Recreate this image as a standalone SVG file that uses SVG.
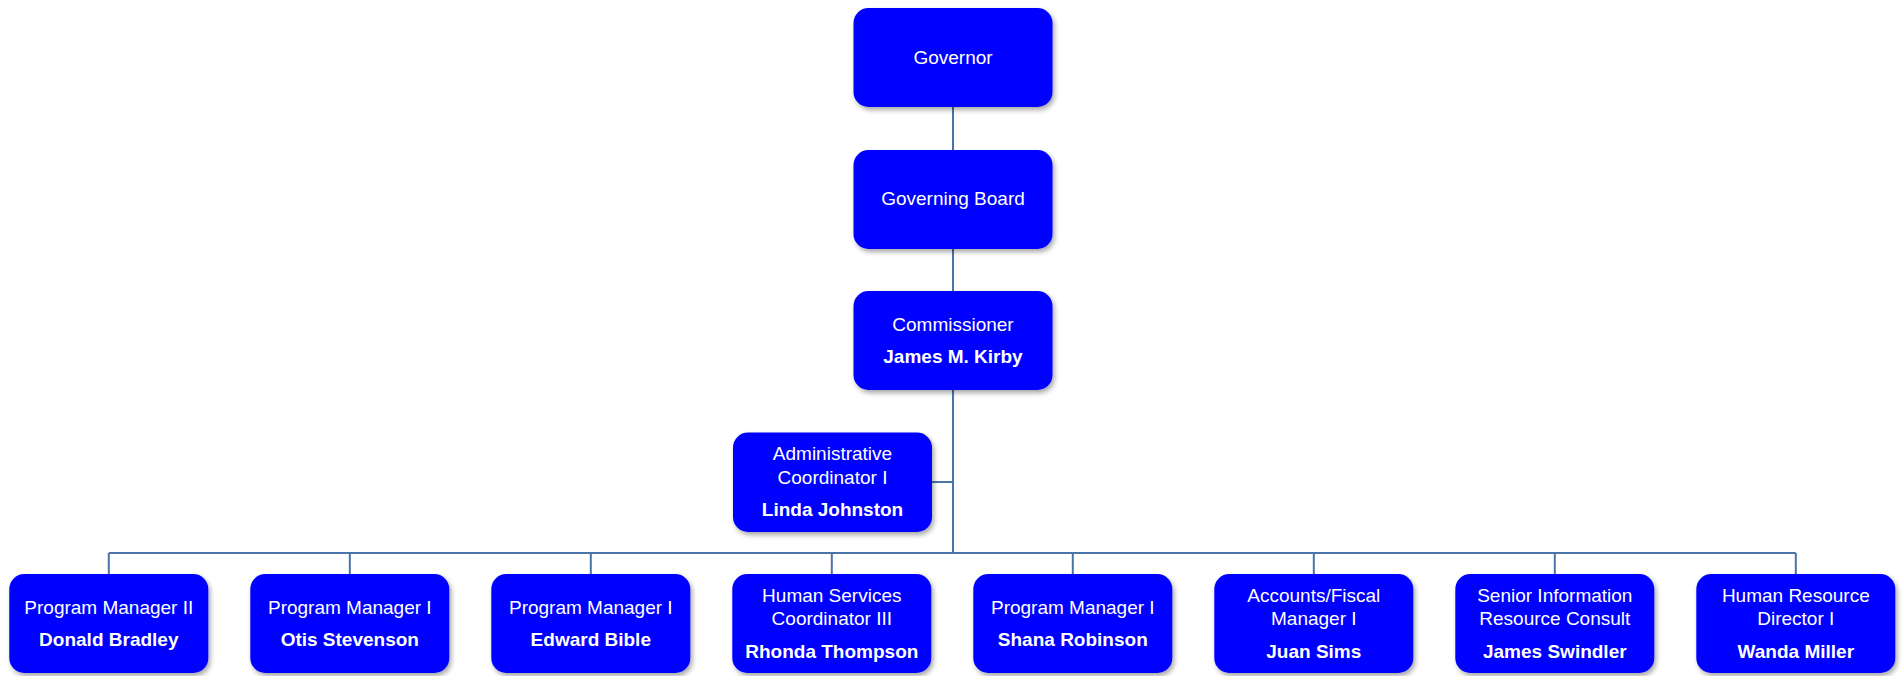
<svg xmlns="http://www.w3.org/2000/svg" width="1902" height="676" viewBox="0 0 1902 676">
<defs>
<filter id="sh" x="-10%" y="-10%" width="125%" height="130%">
<feDropShadow dx="2" dy="3" stdDeviation="2.5" flood-color="#000" flood-opacity="0.35"/>
</filter>
<style>
.box{fill:#0000ff;filter:url(#sh)}
.t{font-family:"Liberation Sans",Arial,sans-serif;font-size:19px;fill:#fff;text-anchor:middle}
.b{font-weight:bold}
.c{fill:none;stroke:#4a74a8;stroke-width:2}
</style>
</defs>
<rect width="1902" height="676" fill="#fff"/>
<g id="connectors">
<path class="c" d="M953 107V150M953 249V291M953 390V553M932 482H953M108.8 553H1795.8"/>
<path class="c" d="M108.8 553V574M349.8 553V574M590.8 553V574M831.8 553V574M1072.8 553V574M1313.8 553V574M1554.8 553V574M1795.8 553V574"/>
</g>
<g id="governor"><rect class="box" x="853.5" y="8" width="199" height="99" rx="15"/><text class="t" x="953" y="64">Governor</text></g>
<g id="board"><rect class="box" x="853.5" y="150" width="199" height="99" rx="15"/><text class="t" x="953" y="205">Governing Board</text></g>
<g id="commissioner"><rect class="box" x="853.5" y="291" width="199" height="99" rx="15"/><text class="t" x="953" y="331">Commissioner</text><text class="t b" x="953" y="363">James M. Kirby</text></g>
<g id="admin"><rect class="box" x="733" y="432.5" width="199" height="99.5" rx="15"/><text class="t" x="832.5" y="460">Administrative</text><text class="t" x="832.5" y="484">Coordinator I</text><text class="t b" x="832.5" y="516">Linda Johnston</text></g>
<g id="n1"><rect class="box" x="9.3" y="574" width="199" height="99" rx="15"/><text class="t" x="108.8" y="614">Program Manager II</text><text class="t b" x="108.8" y="646">Donald Bradley</text></g>
<g id="n2"><rect class="box" x="250.3" y="574" width="199" height="99" rx="15"/><text class="t" x="349.8" y="614">Program Manager I</text><text class="t b" x="349.8" y="646">Otis Stevenson</text></g>
<g id="n3"><rect class="box" x="491.3" y="574" width="199" height="99" rx="15"/><text class="t" x="590.8" y="614">Program Manager I</text><text class="t b" x="590.8" y="646">Edward Bible</text></g>
<g id="n4"><rect class="box" x="732.3" y="574" width="199" height="99" rx="15"/><text class="t" x="831.8" y="602">Human Services</text><text class="t" x="831.8" y="625">Coordinator III</text><text class="t b" x="831.8" y="658">Rhonda Thompson</text></g>
<g id="n5"><rect class="box" x="973.3" y="574" width="199" height="99" rx="15"/><text class="t" x="1072.8" y="614">Program Manager I</text><text class="t b" x="1072.8" y="646">Shana Robinson</text></g>
<g id="n6"><rect class="box" x="1214.3" y="574" width="199" height="99" rx="15"/><text class="t" x="1313.8" y="602">Accounts/Fiscal</text><text class="t" x="1313.8" y="625">Manager I</text><text class="t b" x="1313.8" y="658">Juan Sims</text></g>
<g id="n7"><rect class="box" x="1455.3" y="574" width="199" height="99" rx="15"/><text class="t" x="1554.8" y="602">Senior Information</text><text class="t" x="1554.8" y="625">Resource Consult</text><text class="t b" x="1554.8" y="658">James Swindler</text></g>
<g id="n8"><rect class="box" x="1696.3" y="574" width="199" height="99" rx="15"/><text class="t" x="1795.8" y="602">Human Resource</text><text class="t" x="1795.8" y="625">Director I</text><text class="t b" x="1795.8" y="658">Wanda Miller</text></g>
</svg>
